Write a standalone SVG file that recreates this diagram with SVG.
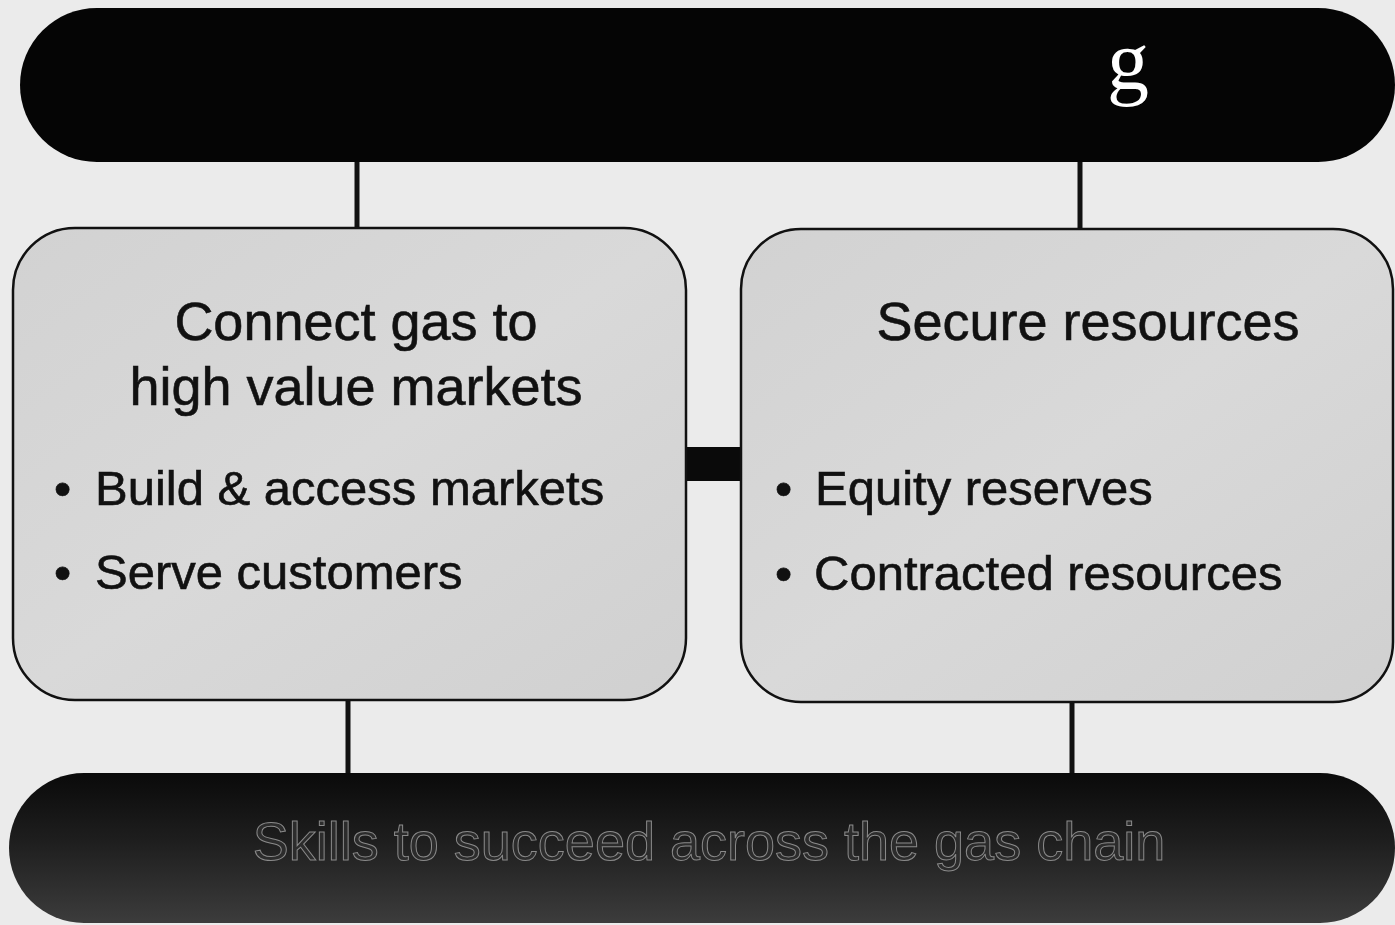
<svg xmlns="http://www.w3.org/2000/svg" width="1395" height="925" viewBox="0 0 1395 925">
  <defs>
    <linearGradient id="botGrad" x1="0" y1="0" x2="0" y2="1">
      <stop offset="0" stop-color="#0a0a0a"/>
      <stop offset="0.45" stop-color="#1e1e1e"/>
      <stop offset="1" stop-color="#3c3c3c"/>
    </linearGradient>
    <linearGradient id="boxGrad" x1="0" y1="0" x2="1" y2="1">
      <stop offset="0" stop-color="#d2d2d2"/>
      <stop offset="0.5" stop-color="#d9d9d9"/>
      <stop offset="1" stop-color="#d0d0d0"/>
    </linearGradient>
  </defs>
  <style>
    .bar { fill: #050505; }
    .box { fill: url(#boxGrad); stroke: #111; stroke-width: 2.5; }
    .conn { stroke: #111; stroke-width: 5; fill: none; }
    .head { font-family: "Liberation Sans", Arial, sans-serif; font-size: 54px; fill: #111; stroke: #111; stroke-width: 0.6; text-anchor: middle; }
    .bul { font-family: "Liberation Sans", Arial, sans-serif; font-size: 49px; fill: #111; stroke: #111; stroke-width: 0.6; }
    .bottxt { font-family: "Liberation Sans", Arial, sans-serif; font-size: 54px; fill: #2c2c2c; stroke: #8a8a8a; stroke-width: 1; text-anchor: middle; }
  </style>
  <rect x="0" y="0" width="1395" height="925" fill="#ebebeb"/>

  <g id="connectors">
    <line class="conn" x1="357" y1="160" x2="357" y2="230"/>
    <line class="conn" x1="1080" y1="160" x2="1080" y2="230"/>
    <line class="conn" x1="348" y1="698" x2="348" y2="775"/>
    <line class="conn" x1="1072" y1="700" x2="1072" y2="775"/>
    <rect x="685" y="447" width="57" height="34" fill="#0a0a0a"/>
  </g>

  <g id="top-bar">
    <rect class="bar" x="20" y="8" width="1375" height="154" rx="77" ry="77"/>
    <text x="1128" y="89" font-family="Liberation Serif, Times New Roman, serif" font-size="84" fill="#ffffff" text-anchor="middle">g</text>
  </g>

  <g id="left-box">
    <rect class="box" x="13" y="228" width="673" height="472" rx="62" ry="62"/>
    <text class="head" x="356" y="340">Connect gas to</text>
    <text class="head" x="356" y="405">high value markets</text>
    <text class="bul" y="505"><tspan x="54">•</tspan><tspan x="95">Build &amp; access markets</tspan></text>
    <text class="bul" y="589"><tspan x="54">•</tspan><tspan x="95">Serve customers</tspan></text>
  </g>

  <g id="right-box">
    <rect class="box" x="741" y="229" width="652" height="473" rx="60" ry="60"/>
    <text class="head" x="1088" y="340">Secure resources</text>
    <text class="bul" y="505"><tspan x="775">•</tspan><tspan x="815">Equity reserves</tspan></text>
    <text class="bul" y="590"><tspan x="775">•</tspan><tspan x="814">Contracted resources</tspan></text>
  </g>

  <g id="bottom-bar">
    <rect x="9" y="773" width="1386" height="150" rx="75" ry="75" fill="url(#botGrad)"/>
    <text class="bottxt" x="709" y="860">Skills to succeed across the gas chain</text>
  </g>
</svg>
